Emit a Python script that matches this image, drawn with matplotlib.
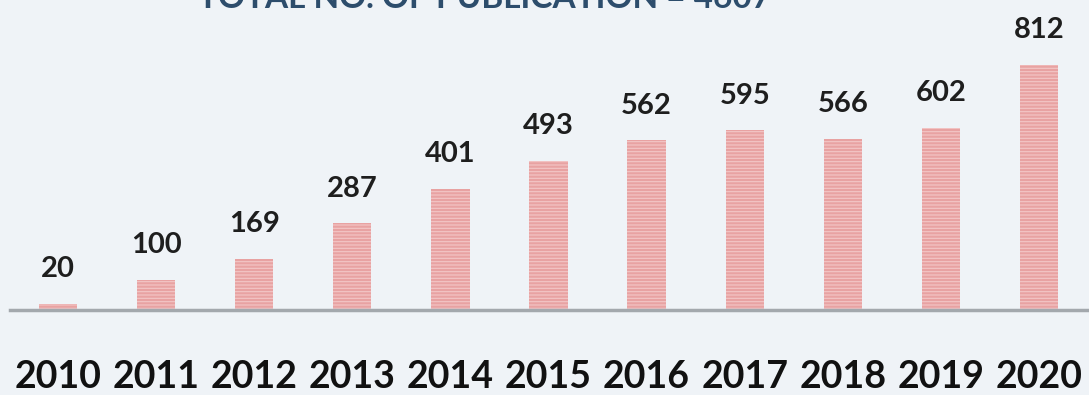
import matplotlib.pyplot as plt

years = ["2010", "2011", "2012", "2013", "2014", "2015", "2016", "2017", "2018", "2019", "2020"]
publications = [20, 100, 169, 287, 401, 493, 562, 595, 566, 602, 812]
title = "TOTAL NO. OF PUBLICATION = 4607"

plt.rcParams["font.family"] = ["Lato", "DejaVu Sans"]
plt.rcParams["hatch.linewidth"] = 0.8

fig = plt.figure(figsize=(10.89, 3.95), dpi=100)
fig.patch.set_facecolor("#eff3f7")
ax = fig.add_axes([0, 0, 1, 1])
ax.set_facecolor("#eff3f7")

x = list(range(len(years)))
bars = ax.bar(x, publications, width=0.39, color="#e8a2a2",
              edgecolor="#f3c6c6", linewidth=0, hatch="-----")

# value labels above bars, years below the line
for i, v in enumerate(publications):
    ax.annotate(f"{v}", (i, v), xytext=(0, 25), textcoords="offset points",
                ha="center", va="center", fontsize=21, fontweight="bold",
                color="#1e1e1e")
    ax.text(i, -222, years[i], ha="center", va="center", fontsize=27,
            fontweight="bold", color="#111111")

# axis line
ax.axhline(0, xmin=10 / 1089, xmax=1, color="#a3a8ad", linewidth=2.5)

ax.set_xlim(-0.591, 10.51)
ax.set_ylim(-281, 1026)
ax.axis("off")

fig.text(0.445, 1 + 2 / 395, title, ha="center", va="center", fontsize=24,
         fontweight="bold", color="#2d4d6c")

plt.savefig("out.png", dpi=100, facecolor=fig.get_facecolor())
